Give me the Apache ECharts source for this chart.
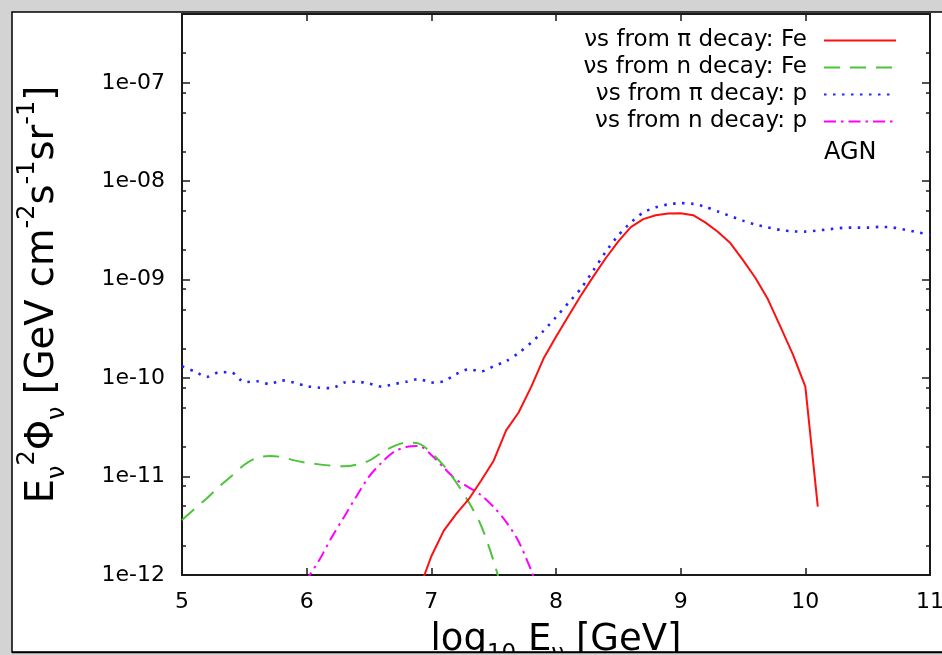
<!DOCTYPE html>
<html><head><meta charset="utf-8">
<script src="https://cdn.jsdelivr.net/npm/echarts@6/dist/echarts.min.js"></script>
<style>html,body{margin:0;padding:0;background:#d3d3d3;} #c{width:942px;height:655px;}</style>
</head><body><div id="c"></div>
<script>
const seriesNames = ['νs from π decay: Fe', 'νs from n decay: Fe', 'νs from π decay: p', 'νs from n decay: p'];

const energyPiP = [5.0,5.1,5.2,5.3,5.4,5.5,5.6,5.7,5.8,5.9,6.0,6.1,6.2,6.3,6.4,6.5,6.6,6.7,6.8,6.9,7.0,7.1,7.2,7.3,7.4,7.5,7.6,7.7,7.8,7.9,8.0,8.1,8.2,8.3,8.4,8.5,8.6,8.7,8.8,8.9,9.0,9.1,9.2,9.3,9.4,9.5,9.6,9.7,9.8,9.9,10.0,10.1,10.2,10.3,10.4,10.5,10.6,10.7,10.8,10.9,11.0];
const fluxPiP = [1.32e-10,1.17e-10,1.03e-10,1.15e-10,1.14e-10,9.1e-11,9.3e-11,8.7e-11,9.5e-11,9.0e-11,
  8.3e-11,8.0e-11,7.9e-11,9.0e-11,9.2e-11,8.8e-11,8.2e-11,8.7e-11,9.2e-11,9.8e-11,
  9.0e-11,9.3e-11,1.10e-10,1.23e-10,1.17e-10,1.32e-10,1.49e-10,1.80e-10,2.29e-10,3.02e-10,
  4.17e-10,5.81e-10,8.13e-10,1.245e-9,1.93e-9,2.82e-9,3.80e-9,4.81e-9,5.43e-9,5.82e-9,
  6.0e-9,5.89e-9,5.50e-9,4.92e-9,4.42e-9,3.98e-9,3.63e-9,3.39e-9,3.20e-9,3.09e-9,
  3.08e-9,3.16e-9,3.26e-9,3.36e-9,3.38e-9,3.38e-9,3.44e-9,3.39e-9,3.21e-9,3.03e-9,
  2.85e-9];

const energyPiFe = [6.9,7.0,7.1,7.2,7.3,7.4,7.5,7.6,7.7,7.8,7.9,8.0,8.1,8.2,8.3,8.4,8.5,8.6,8.7,8.8,8.9,9.0,9.1,9.2,9.3,9.4,9.5,9.6,9.7,9.8,9.9,10.0,10.1];
const fluxPiFe = [7.0e-13,1.55e-12,2.82e-12,4.17e-12,5.89e-12,9.12e-12,1.45e-11,2.95e-11,4.47e-11,8.1e-11,
  1.58e-10,2.63e-10,4.27e-10,6.92e-10,1.08e-9,1.66e-9,2.45e-9,3.42e-9,4.12e-9,4.52e-9,
  4.70e-9,4.74e-9,4.52e-9,3.80e-9,3.05e-9,2.34e-9,1.58e-9,1.04e-9,6.31e-10,3.34e-10,
  1.74e-10,8.2e-11,4.94e-12];

const energyNFe = [5.0,5.1,5.2,5.3,5.4,5.5,5.6,5.7,5.8,5.9,6.0,6.1,6.2,6.3,6.4,6.5,6.6,6.7,6.8,6.9,7.0,7.1,7.2,7.3,7.4,7.5,7.6];
const fluxNFe = [3.63e-12,4.68e-12,6.03e-12,7.94e-12,1.02e-11,1.32e-11,1.55e-11,1.62e-11,1.58e-11,1.46e-11,
  1.38e-11,1.33e-11,1.29e-11,1.27e-11,1.32e-11,1.45e-11,1.74e-11,2.04e-11,2.21e-11,2.16e-11,
  1.74e-11,1.29e-11,8.7e-12,5.5e-12,3.16e-12,1.38e-12,5.0e-13];

const energyNP = [5.9,6.0,6.1,6.2,6.3,6.4,6.5,6.6,6.7,6.8,6.9,7.0,7.1,7.2,7.3,7.4,7.5,7.6,7.7,7.8,7.9];
const fluxNP = [5.0e-13,8.9e-13,1.41e-12,2.40e-12,3.89e-12,6.31e-12,1.0e-11,1.38e-11,1.78e-11,2.0e-11,
  2.04e-11,1.66e-11,1.23e-11,9.3e-12,7.76e-12,6.46e-12,4.9e-12,3.47e-12,2.19e-12,1.12e-12,
  5.0e-13];

const xTickValues = [5, 6, 7, 8, 9, 10, 11];
const yMajorTicks = [1e-12, 1e-11, 1e-10, 1e-9, 1e-8, 1e-7];
const yTickLabels = ['1e-12', '1e-11', '1e-10', '1e-09', '1e-08', '1e-07'];
const yMinorTicks = [2e-12,5e-12,8e-12,2e-11,5e-11,8e-11,2e-10,5e-10,8e-10,2e-9,5e-9,8e-9,2e-8,5e-8,8e-8,2e-7];
const annotationText = 'AGN';

const FONT = 'DejaVu Sans';
const AX = '#1a1a1a';
const zip = (xs, ys) => xs.map((x, i) => [x, ys[i]]);

const chart = echarts.init(document.getElementById('c'), null, {renderer: 'canvas'});

const titleRichX = {
  m: {fontSize: 37, fontFamily: FONT, color: '#000', lineHeight: 52},
  sb: {fontSize: 23, fontFamily: FONT, color: '#000', lineHeight: 23, verticalAlign: 'bottom'},
  sp: {fontSize: 23, fontFamily: FONT, color: '#000', lineHeight: 23, verticalAlign: 'top'}
};
const titleRichY = {
  m: {fontSize: 38.5, fontFamily: FONT, color: '#000', lineHeight: 54},
  sb: {fontSize: 24, fontFamily: FONT, color: '#000', lineHeight: 24, verticalAlign: 'bottom'},
  sp: {fontSize: 24, fontFamily: FONT, color: '#000', lineHeight: 24, verticalAlign: 'top'}
};

const yBase = {type: 'log', logBase: 10, min: 1e-12, max: 5e-7, splitLine: {show: false}, axisLabel: {show: false}};
const legendTops = [24, 51, 78, 105];
const colors = ['#ff1010', '#4cc43a', '#2323ff', '#ff00ff'];
const dashes = ['solid', [16, 10], [2.5, 6.5], [12, 5, 2.5, 5]];
const widths = [2, 2, 2.6, 2];

chart.setOption({
  animation: false,
  backgroundColor: 'transparent',
  grid: {left: 182, right: 12, top: 14, bottom: 80, containLabel: false, outerBoundsMode: 'none'},
  graphic: [
    {type: 'rect', z: -10, shape: {x: 12, y: 12, width: 960, height: 640}, style: {fill: '#fff', stroke: '#000', lineWidth: 1.5}},
    {type: 'rect', z: 100, shape: {x: 0, y: 653, width: 942, height: 4}, style: {fill: '#d3d3d3'}},
    {type: 'line', z: 101, shape: {x1: 12, y1: 652.5, x2: 942, y2: 652.5}, style: {stroke: '#000', lineWidth: 1.5}},
    {type: 'text', z: 50, style: {text: annotationText, x: 824, y: 153, verticalAlign: 'middle', font: '24px "DejaVu Sans"', fill: '#000'}}
  ],
  legend: seriesNames.map((n, i) => ({
    data: [n], right: 45, top: legendTops[i], orient: 'horizontal', align: 'right', padding: 0,
    itemWidth: 72, itemHeight: 14, selectedMode: false,
    itemStyle: {opacity: 0},
    textStyle: {fontSize: 23, fontFamily: FONT, color: '#000', padding: [6, 12, 0, 0], lineHeight: 27}
  })),
  xAxis: [
    {type: 'value', min: 5, max: 11, interval: 1, position: 'bottom',
     axisLine: {show: true, onZero: false, lineStyle: {color: AX, width: 2}},
     axisTick: {inside: true, length: 7, lineStyle: {color: AX, width: 1.5}},
     axisLabel: {margin: 16, fontSize: 22, fontFamily: FONT, color: '#000', customValues: xTickValues},
     splitLine: {show: false},
     name: '{m|log}{sb|10}{m| E}{sb|ν}{m| [GeV]}', nameLocation: 'middle', nameGap: 39,
     nameTextStyle: {rich: titleRichX}},
    {type: 'value', min: 5, max: 11, interval: 1, position: 'top',
     axisLine: {show: true, onZero: false, lineStyle: {color: AX, width: 2}},
     axisTick: {inside: true, length: 7, lineStyle: {color: AX, width: 1.5}},
     axisLabel: {show: false}, splitLine: {show: false}}
  ],
  yAxis: [
    Object.assign({}, yBase, {position: 'left',
      axisLine: {show: true, lineStyle: {color: AX, width: 2}},
      axisTick: {inside: true, length: 8, customValues: yMajorTicks, lineStyle: {color: AX, width: 1.5}},
      axisLabel: {show: true, margin: 17, fontSize: 22, fontFamily: FONT, color: '#000', customValues: yMajorTicks,
        formatter: v => yTickLabels[Math.round(Math.log10(v)) + 12] || ''},
      name: '{m|E}{sb|ν}{sp|2}{m|Φ}{sb|ν}{m| [GeV cm}{sp|-2}{m|s}{sp|-1}{m|sr}{sp|-1}{m|]}',
      nameLocation: 'middle', nameGap: 112, nameRotate: 90,
      nameTextStyle: {rich: titleRichY}}),
    Object.assign({}, yBase, {position: 'left',
      axisLine: {show: false},
      axisTick: {inside: true, length: 4, customValues: yMinorTicks, lineStyle: {color: AX, width: 1.5}}}),
    Object.assign({}, yBase, {position: 'right',
      axisLine: {show: true, lineStyle: {color: AX, width: 2}},
      axisTick: {inside: true, length: 8, customValues: yMajorTicks, lineStyle: {color: AX, width: 1.5}}}),
    Object.assign({}, yBase, {position: 'right',
      axisLine: {show: false},
      axisTick: {inside: true, length: 4, customValues: yMinorTicks, lineStyle: {color: AX, width: 1.5}}})
  ],
  series: [
    {name: seriesNames[0], data: zip(energyPiFe, fluxPiFe), smooth: false},
    {name: seriesNames[1], data: zip(energyNFe, fluxNFe), smooth: 0.3},
    {name: seriesNames[2], data: zip(energyPiP, fluxPiP), smooth: 0.25},
    {name: seriesNames[3], data: zip(energyNP, fluxNP), smooth: 0.3}
  ].map((s, i) => Object.assign({
    type: 'line', xAxisIndex: 0, yAxisIndex: 0, symbol: 'none', showSymbol: false, clip: true,
    color: colors[i],
    lineStyle: {color: colors[i], width: widths[i], type: dashes[i], cap: 'butt'},
    z: 10 - i
  }, s))
});
</script></body></html>
